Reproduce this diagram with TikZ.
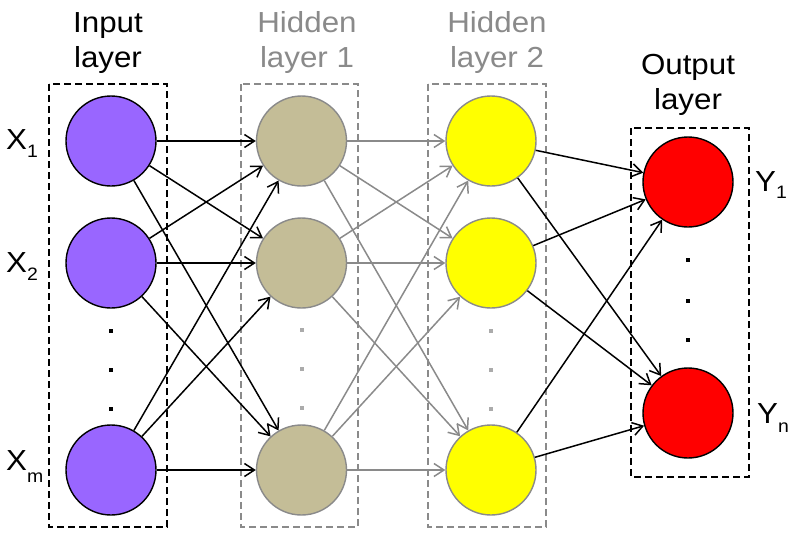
\documentclass[tikz,border=0pt]{standalone}
\usepackage{fontspec}
\setmainfont{Liberation Sans}[FakeStretch=1.08]
\usetikzlibrary{arrows.meta}
\definecolor{inpurple}{HTML}{9966FF}
\definecolor{hidtan}{HTML}{C4BD97}
\definecolor{hidyel}{HTML}{FFFF00}
\definecolor{outred}{HTML}{FF0000}
\definecolor{lgray}{HTML}{8A8A8A}
\definecolor{dotgray}{HTML}{ABABAB}
\newcommand\lblsub[3]{#1\raisebox{-#3pt}{\fontsize{18}{18}\selectfont #2}}
\begin{document}
\begin{tikzpicture}[x=1pt,y=-1pt,
  >={Straight Barb[length=10pt,width=13pt]},
  neuron/.style={circle,minimum size=90pt,inner sep=0pt,line width=1.4pt},
  inneuron/.style={neuron,draw=black,fill=inpurple},
  h1neuron/.style={neuron,draw=lgray,fill=hidtan},
  h2neuron/.style={neuron,draw=lgray,fill=hidyel},
  outneuron/.style={neuron,draw=black,fill=outred},
  layerbox/.style={line width=1.5pt,dash pattern=on 7pt off 4pt},
  blackconn/.style={->,line width=1.5pt,draw=black},
  grayconn/.style={->,line width=1.5pt,draw=lgray},
  title/.style={font=\fontsize{29}{35}\selectfont,align=center,anchor=north,inner sep=0pt},
  varlabel/.style={font=\fontsize{29}{35}\selectfont,anchor=base west,inner sep=0pt},
  bdot/.style={fill=black,minimum size=4.5pt,inner sep=0pt,draw=none,rectangle},
  gdot/.style={fill=dotgray,minimum size=4.5pt,inner sep=0pt,draw=none,rectangle}
]
\useasboundingbox (0,0) rectangle (794,536);

% layer boxes
\draw[layerbox,draw=black] (49,84) rectangle (167,527);
\draw[layerbox,draw=lgray] (241,84) rectangle (358,527);
\draw[layerbox,draw=lgray] (428,84) rectangle (546,527);
\draw[layerbox,draw=black] (631,128) rectangle (749,477);

% titles
\node[title] (tin) at (108,12) {Input\\layer};
\node[title,text=lgray] (th1) at (307,11) {Hidden\\layer 1};
\node[title,text=lgray] (th2) at (497,11) {Hidden\\layer 2};
\node[title] (tout) at (688,54) {Output\\layer};

% neurons
\node[inneuron] (i1) at (111,141) {};
\node[inneuron] (i2) at (111,263) {};
\node[inneuron] (i3) at (111,470) {};
\node[h1neuron] (a1) at (301.5,141) {};
\node[h1neuron] (a2) at (301.5,263) {};
\node[h1neuron] (a3) at (301.5,470) {};
\node[h2neuron] (b1) at (491,141) {};
\node[h2neuron] (b2) at (491,263) {};
\node[h2neuron] (b3) at (491,470) {};
\node[outneuron] (o1) at (688,182) {};
\node[outneuron] (o2) at (688,413) {};

% connections
\foreach \s in {1,2,3}{
  \foreach \t in {1,2,3}{
    \draw[blackconn] (i\s) -- (a\t);
    \draw[grayconn] (a\s) -- (b\t);
  }
  \foreach \t in {1,2}{
    \draw[blackconn] (b\s) -- (o\t);
  }
}

% ellipsis dots
\node[bdot] (di1) at (111,331) {};
\node[bdot] (di2) at (111,370) {};
\node[bdot] (di3) at (111,409) {};
\node[gdot] (da1) at (302,330) {};
\node[gdot] (da2) at (302,369) {};
\node[gdot] (da3) at (302,408) {};
\node[gdot] (db1) at (491,331) {};
\node[gdot] (db2) at (491,370) {};
\node[gdot] (db3) at (491,409) {};
\node[bdot] (do1) at (688,260) {};
\node[bdot] (do2) at (688,301) {};
\node[bdot] (do3) at (688,340) {};

% variable labels
\node[varlabel] (x1) at (6,149) {\lblsub{X}{1}{8}};
\node[varlabel] (x2) at (6,272) {\lblsub{X}{2}{8}};
\node[varlabel] (xm) at (6,470) {\lblsub{X}{m}{12}};
\node[varlabel] (y1) at (755,191) {\lblsub{Y}{1}{7}};
\node[varlabel] (yn) at (757,423) {\lblsub{Y}{n}{9}};
\end{tikzpicture}
\end{document}
